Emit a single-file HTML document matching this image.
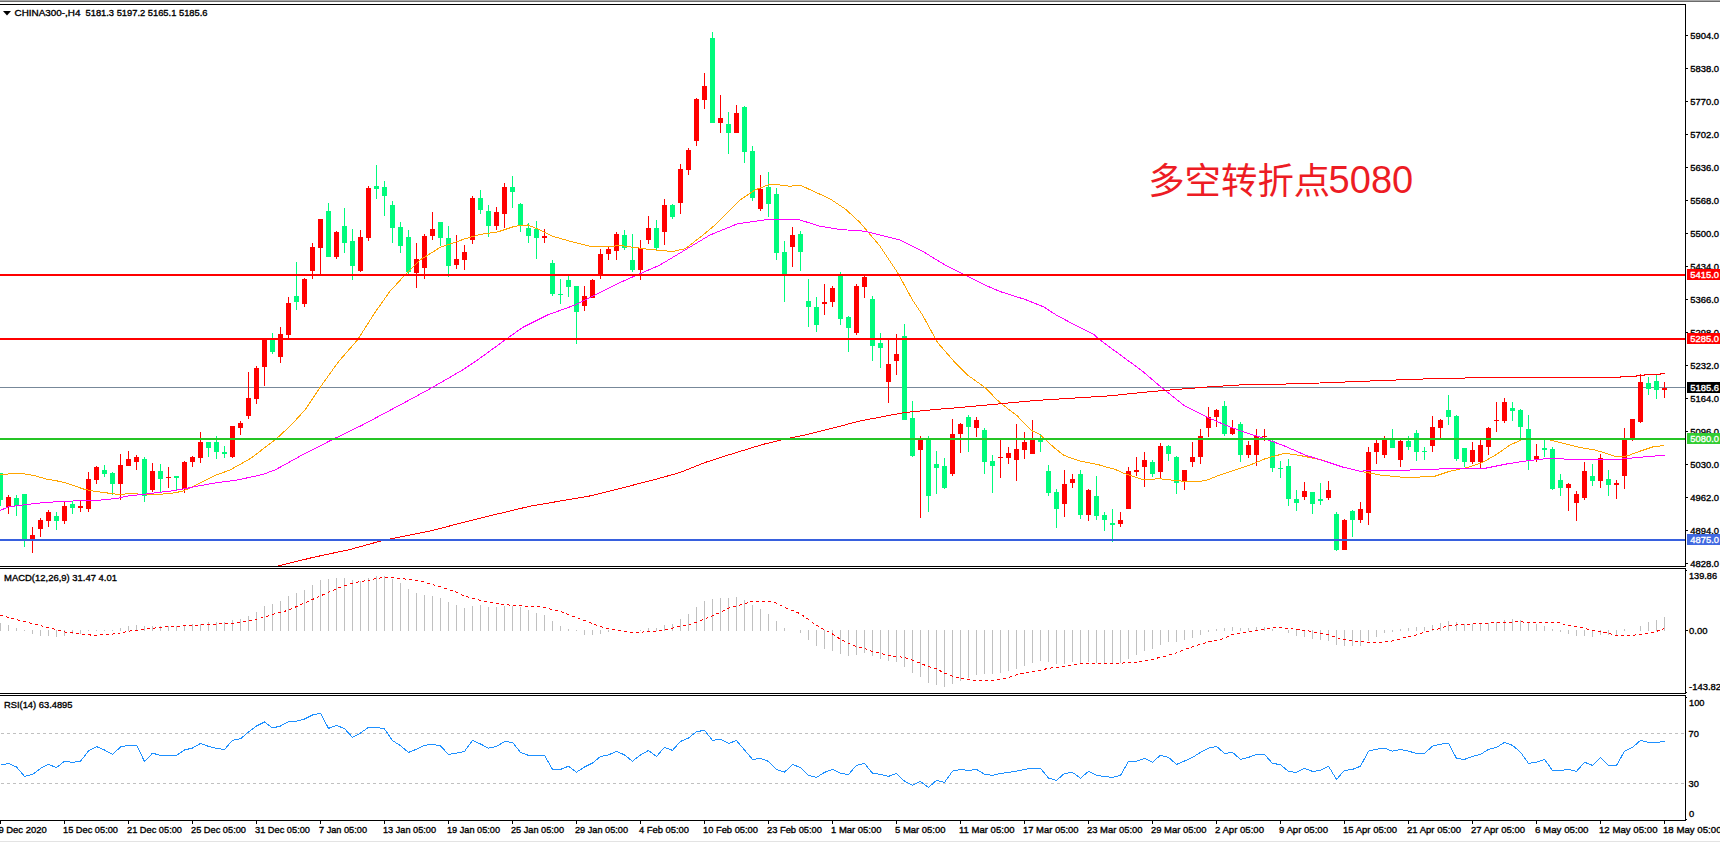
<!DOCTYPE html>
<html lang="zh"><head><meta charset="utf-8"><title>CHINA300-,H4</title>
<style>html,body{margin:0;padding:0;background:#fff;overflow:hidden}svg{display:block;font-family:"Liberation Sans","Noto Sans CJK SC",sans-serif}.crisp{shape-rendering:crispEdges}.ln{fill:none;stroke-width:1;shape-rendering:crispEdges}.note{font-family:"Liberation Sans","Noto Sans CJK SC",sans-serif}</style></head><body>
<svg width="1720" height="843" viewBox="0 0 1720 843">
<rect x="0" y="0" width="1720" height="843" fill="#fff"/>
<g class="crisp">
<rect x="0" y="0" width="1720" height="1" fill="#a9a9a9"/>
<rect x="0" y="1" width="1720" height="1" fill="#6b6b6b"/>
<rect x="0" y="841" width="1720" height="1" fill="#e3e3e3"/>
</g>
<g class="crisp"><rect x="0" y="387" width="1685" height="1" fill="#778899"/></g>
<g class="crisp">
<path fill="#00fb7c" d="M0 473h1v33h-1zM-2 473h5v27h-5zM16 495h1v21h-1zM14 498h5v8h-5zM24 494h1v53h-1zM22 494h5v46h-5zM56 512h1v18h-1zM54 516h5v5h-5zM72 501h1v13h-1zM70 504h5v4h-5zM104 465h1v12h-1zM102 470h5v4h-5zM112 472h1v23h-1zM110 473h5v11h-5zM144 457h1v45h-1zM142 459h5v37h-5zM160 464h1v28h-1zM158 471h5v8h-5zM176 476h1v15h-1zM174 476h5v2h-5zM208 442h1v15h-1zM206 442h5v6h-5zM216 436h1v23h-1zM214 442h5v10h-5zM224 446h1v12h-1zM222 452h5v2h-5zM272 333h1v21h-1zM270 340h5v12h-5zM296 262h1v48h-1zM294 296h5v6h-5zM328 203h1v54h-1zM326 211h5v46h-5zM344 208h1v45h-1zM342 226h5v17h-5zM352 229h1v51h-1zM350 241h5v25h-5zM376 165h1v34h-1zM374 186h5v3h-5zM384 181h1v35h-1zM382 187h5v9h-5zM392 201h1v42h-1zM390 205h5v23h-5zM400 222h1v31h-1zM398 227h5v19h-5zM408 230h1v44h-1zM406 237h5v35h-5zM440 222h1v24h-1zM438 222h5v16h-5zM448 226h1v51h-1zM446 238h5v28h-5zM480 190h1v24h-1zM478 198h5v12h-5zM488 205h1v32h-1zM486 211h5v15h-5zM512 176h1v32h-1zM510 187h5v5h-5zM520 203h1v29h-1zM518 204h5v21h-5zM528 223h1v20h-1zM526 228h5v8h-5zM536 221h1v38h-1zM534 229h5v9h-5zM552 260h1v36h-1zM550 263h5v31h-5zM560 279h1v25h-1zM558 294h5v1h-5zM568 276h1v21h-1zM566 280h5v7h-5zM576 286h1v58h-1zM574 286h5v26h-5zM624 230h1v20h-1zM622 235h5v13h-5zM632 234h1v38h-1zM630 260h5v10h-5zM656 220h1v30h-1zM654 228h5v20h-5zM672 204h1v15h-1zM670 205h5v12h-5zM712 32h1v91h-1zM710 38h5v85h-5zM728 112h1v42h-1zM726 124h5v9h-5zM744 106h1v57h-1zM742 107h5v45h-5zM752 146h1v55h-1zM750 151h5v47h-5zM768 172h1v45h-1zM766 187h5v17h-5zM776 188h1v72h-1zM774 194h5v59h-5zM784 241h1v61h-1zM782 252h5v22h-5zM800 231h1v40h-1zM798 234h5v18h-5zM808 279h1v48h-1zM806 301h5v6h-5zM816 297h1v35h-1zM814 307h5v18h-5zM840 272h1v53h-1zM838 275h5v44h-5zM848 316h1v36h-1zM846 317h5v11h-5zM872 296h1v65h-1zM870 299h5v47h-5zM880 333h1v35h-1zM878 343h5v5h-5zM904 324h1v96h-1zM902 336h5v84h-5zM912 401h1v56h-1zM910 418h5v38h-5zM928 436h1v76h-1zM926 439h5v57h-5zM936 451h1v43h-1zM934 464h5v4h-5zM944 458h1v31h-1zM942 466h5v22h-5zM968 415h1v37h-1zM966 417h5v10h-5zM984 428h1v46h-1zM982 430h5v32h-5zM992 455h1v38h-1zM990 461h5v5h-5zM1040 434h1v18h-1zM1038 439h5v3h-5zM1048 465h1v31h-1zM1046 471h5v22h-5zM1056 489h1v39h-1zM1054 492h5v17h-5zM1080 470h1v49h-1zM1078 474h5v41h-5zM1096 476h1v44h-1zM1094 496h5v20h-5zM1104 512h1v19h-1zM1102 515h5v5h-5zM1112 509h1v33h-1zM1110 523h5v2h-5zM1152 460h1v17h-1zM1150 462h5v12h-5zM1168 445h1v16h-1zM1166 446h5v8h-5zM1176 456h1v38h-1zM1174 457h5v26h-5zM1224 401h1v35h-1zM1222 406h5v28h-5zM1240 422h1v40h-1zM1238 424h5v31h-5zM1272 440h1v32h-1zM1270 441h5v27h-5zM1280 461h1v17h-1zM1278 468h5v1h-5zM1288 459h1v47h-1zM1286 466h5v33h-5zM1296 490h1v21h-1zM1294 499h5v4h-5zM1312 492h1v22h-1zM1310 492h5v12h-5zM1320 483h1v22h-1zM1318 499h5v2h-5zM1336 512h1v39h-1zM1334 514h5v36h-5zM1352 510h1v27h-1zM1350 511h5v9h-5zM1392 429h1v19h-1zM1390 440h5v8h-5zM1408 436h1v14h-1zM1406 441h5v6h-5zM1416 430h1v31h-1zM1414 433h5v19h-5zM1424 447h1v13h-1zM1422 451h5v1h-5zM1448 395h1v30h-1zM1446 410h5v7h-5zM1456 415h1v46h-1zM1454 416h5v43h-5zM1464 448h1v19h-1zM1462 448h5v14h-5zM1512 402h1v19h-1zM1510 408h5v3h-5zM1520 409h1v29h-1zM1518 410h5v17h-5zM1528 415h1v55h-1zM1526 429h5v32h-5zM1544 440h1v17h-1zM1542 448h5v2h-5zM1552 447h1v43h-1zM1550 449h5v40h-5zM1560 474h1v22h-1zM1558 480h5v8h-5zM1592 464h1v22h-1zM1590 476h5v5h-5zM1608 470h1v26h-1zM1606 479h5v6h-5zM1648 377h1v18h-1zM1646 383h5v6h-5zM1656 375h1v24h-1zM1654 381h5v9h-5z"/>
<path fill="#ff0000" d="M8 495h1v19h-1zM6 497h5v10h-5zM32 527h1v26h-1zM30 535h5v4h-5zM40 518h1v19h-1zM38 520h5v9h-5zM48 510h1v17h-1zM46 512h5v9h-5zM64 502h1v22h-1zM62 506h5v15h-5zM80 500h1v12h-1zM78 506h5v2h-5zM88 472h1v40h-1zM86 479h5v30h-5zM96 466h1v18h-1zM94 467h5v13h-5zM120 454h1v46h-1zM118 465h5v19h-5zM128 451h1v15h-1zM126 459h5v7h-5zM136 455h1v15h-1zM134 457h5v5h-5zM152 463h1v29h-1zM150 471h5v19h-5zM168 467h1v21h-1zM166 477h5v1h-5zM184 461h1v32h-1zM182 462h5v27h-5zM192 456h1v11h-1zM190 457h5v5h-5zM200 432h1v31h-1zM198 442h5v16h-5zM232 426h1v32h-1zM230 426h5v31h-5zM240 421h1v14h-1zM238 423h5v5h-5zM248 372h1v47h-1zM246 398h5v18h-5zM256 366h1v38h-1zM254 368h5v31h-5zM264 338h1v48h-1zM262 338h5v29h-5zM280 327h1v36h-1zM278 334h5v23h-5zM288 297h1v41h-1zM286 303h5v32h-5zM304 278h1v29h-1zM302 279h5v25h-5zM312 243h1v36h-1zM310 247h5v24h-5zM320 219h1v55h-1zM318 219h5v29h-5zM336 231h1v28h-1zM334 232h5v25h-5zM360 230h1v42h-1zM358 237h5v34h-5zM368 186h1v55h-1zM366 188h5v50h-5zM416 243h1v45h-1zM414 259h5v14h-5zM424 234h1v45h-1zM422 236h5v32h-5zM432 212h1v28h-1zM430 229h5v7h-5zM456 235h1v34h-1zM454 259h5v6h-5zM464 245h1v25h-1zM462 252h5v8h-5zM472 196h1v48h-1zM470 198h5v42h-5zM496 207h1v23h-1zM494 212h5v14h-5zM504 183h1v45h-1zM502 187h5v27h-5zM544 229h1v14h-1zM542 236h5v2h-5zM584 286h1v25h-1zM582 296h5v10h-5zM592 279h1v19h-1zM590 280h5v18h-5zM600 249h1v30h-1zM598 254h5v21h-5zM608 246h1v14h-1zM606 249h5v5h-5zM616 232h1v28h-1zM614 234h5v17h-5zM640 240h1v40h-1zM638 248h5v22h-5zM648 216h1v28h-1zM646 228h5v12h-5zM664 199h1v46h-1zM662 205h5v27h-5zM680 164h1v50h-1zM678 169h5v34h-5zM688 148h1v27h-1zM686 150h5v20h-5zM696 98h1v48h-1zM694 99h5v42h-5zM704 73h1v36h-1zM702 86h5v14h-5zM720 95h1v38h-1zM718 118h5v5h-5zM736 105h1v28h-1zM734 113h5v20h-5zM760 175h1v36h-1zM758 189h5v20h-5zM792 227h1v40h-1zM790 235h5v12h-5zM824 284h1v31h-1zM822 302h5v2h-5zM832 286h1v21h-1zM830 288h5v14h-5zM856 284h1v51h-1zM854 286h5v47h-5zM864 276h1v22h-1zM862 277h5v10h-5zM888 339h1v64h-1zM886 364h5v18h-5zM896 334h1v41h-1zM894 354h5v7h-5zM920 436h1v82h-1zM918 439h5v11h-5zM952 419h1v57h-1zM950 434h5v40h-5zM960 423h1v30h-1zM958 424h5v10h-5zM976 417h1v20h-1zM974 420h5v8h-5zM1000 440h1v38h-1zM998 457h5v1h-5zM1008 447h1v17h-1zM1006 453h5v5h-5zM1016 424h1v57h-1zM1014 449h5v11h-5zM1024 432h1v27h-1zM1022 442h5v8h-5zM1032 420h1v34h-1zM1030 439h5v15h-5zM1064 470h1v47h-1zM1062 484h5v20h-5zM1072 474h1v14h-1zM1070 479h5v4h-5zM1088 489h1v32h-1zM1086 490h5v25h-5zM1120 512h1v15h-1zM1118 520h5v4h-5zM1128 467h1v42h-1zM1126 471h5v38h-5zM1136 457h1v19h-1zM1134 470h5v2h-5zM1144 452h1v35h-1zM1142 460h5v7h-5zM1160 443h1v35h-1zM1158 446h5v26h-5zM1184 470h1v20h-1zM1182 470h5v12h-5zM1192 442h1v25h-1zM1190 457h5v5h-5zM1200 429h1v35h-1zM1198 436h5v21h-5zM1208 407h1v30h-1zM1206 417h5v11h-5zM1216 409h1v18h-1zM1214 410h5v7h-5zM1232 420h1v15h-1zM1230 428h5v6h-5zM1248 441h1v17h-1zM1246 445h5v10h-5zM1256 429h1v37h-1zM1254 436h5v19h-5zM1264 429h1v12h-1zM1262 436h5v1h-5zM1304 482h1v18h-1zM1302 491h5v6h-5zM1328 481h1v19h-1zM1326 490h5v8h-5zM1344 519h1v31h-1zM1342 520h5v30h-5zM1360 502h1v21h-1zM1358 509h5v11h-5zM1368 447h1v78h-1zM1366 452h5v61h-5zM1376 440h1v24h-1zM1374 443h5v9h-5zM1384 436h1v22h-1zM1382 440h5v15h-5zM1400 440h1v27h-1zM1398 441h5v19h-5zM1432 416h1v36h-1zM1430 427h5v19h-5zM1440 419h1v19h-1zM1438 420h5v8h-5zM1472 442h1v22h-1zM1470 450h5v12h-5zM1480 440h1v28h-1zM1478 445h5v17h-5zM1488 427h1v28h-1zM1486 428h5v19h-5zM1496 402h1v30h-1zM1494 420h5v1h-5zM1504 398h1v25h-1zM1502 402h5v19h-5zM1536 444h1v18h-1zM1534 456h5v4h-5zM1568 483h1v28h-1zM1566 484h5v4h-5zM1576 491h1v30h-1zM1574 494h5v9h-5zM1584 462h1v38h-1zM1582 471h5v27h-5zM1600 454h1v34h-1zM1598 458h5v23h-5zM1616 480h1v19h-1zM1614 483h5v2h-5zM1624 428h1v61h-1zM1622 439h5v37h-5zM1632 419h1v22h-1zM1630 419h5v20h-5zM1640 374h1v49h-1zM1638 382h5v40h-5zM1664 382h1v16h-1zM1662 388h5v2h-5z"/>
</g>
<polyline class="ln" stroke="#ffa500" points="0.0,474.9 7.1,474.2 14.2,473.2 21.4,473.6 28.5,474.5 37.0,476.3 47.0,479.2 57.0,480.9 65.5,482.7 74.0,485.6 82.6,488.8 91.1,490.8 99.7,492.0 108.2,493.1 118.2,494.4 128.2,493.8 142.4,494.1 156.6,494.5 170.9,493.4 182.3,491.3 190.8,487.7 199.3,483.4 206.5,479.9 215.0,475.5 230.0,470.0 250.0,458.8 265.0,447.5 275.0,440.0 290.0,426.2 305.0,410.0 320.0,387.5 332.5,370.0 340.0,360.0 357.5,340.0 375.0,312.5 390.0,291.2 405.0,275.0 420.0,260.0 440.0,247.5 465.0,238.8 480.0,234.5 497.5,232.0 515.0,226.2 527.5,225.0 537.5,228.8 552.5,236.2 570.0,241.2 590.0,246.2 605.0,247.0 620.0,245.5 650.0,249.5 672.5,251.5 685.0,248.8 700.0,237.5 715.0,225.0 725.0,215.0 740.0,200.0 755.0,190.0 770.0,184.2 780.0,185.0 790.0,186.2 800.0,185.0 815.0,192.0 830.0,198.8 845.0,208.8 860.0,222.5 880.0,246.2 897.5,272.5 912.5,300.0 922.5,315.0 937.5,342.5 955.0,362.5 967.5,375.0 985.0,387.5 997.2,400.0 1006.6,407.7 1017.0,415.5 1025.6,424.9 1032.4,431.0 1039.3,434.1 1046.2,440.4 1054.8,448.2 1063.4,455.0 1072.0,458.5 1080.6,461.1 1089.2,462.8 1097.8,464.5 1106.4,467.1 1115.0,469.3 1125.0,473.8 1142.5,479.5 1160.0,478.8 1175.0,480.5 1190.0,481.8 1205.0,480.8 1220.0,475.0 1235.0,470.0 1250.0,465.0 1265.0,458.8 1285.0,453.2 1300.0,455.5 1320.0,459.5 1340.0,466.2 1360.0,471.2 1380.0,475.0 1400.0,477.0 1420.0,477.0 1435.0,476.2 1450.0,471.2 1467.5,467.5 1482.5,462.5 1497.5,453.8 1510.0,445.0 1522.5,439.5 1535.0,438.0 1550.0,440.0 1565.0,443.8 1580.0,447.5 1595.0,450.0 1607.5,453.8 1617.5,457.0 1627.5,455.8 1640.0,451.2 1652.5,447.0 1664.5,445.5"/>
<polyline class="ln" stroke="#ff00ff" points="0.0,510.5 8.5,506.9 24.2,504.8 42.7,502.7 59.8,501.5 85.4,500.5 99.7,500.1 116.8,498.4 128.2,496.0 142.4,494.4 156.6,492.7 170.9,491.0 185.1,488.7 199.3,485.8 215.0,483.0 237.5,480.0 262.5,474.5 275.0,470.0 300.0,456.2 332.5,439.5 362.5,425.0 400.0,405.0 430.0,388.8 462.5,370.0 477.5,360.0 505.0,340.0 522.5,327.5 547.5,315.0 575.0,305.0 600.0,292.5 620.0,282.5 640.0,273.8 660.0,265.0 685.0,250.0 710.0,235.0 737.5,223.8 770.0,219.2 800.0,220.0 820.0,226.2 840.0,229.5 865.0,231.2 900.0,240.0 922.5,251.2 945.0,265.0 965.0,275.0 985.0,285.0 1000.0,291.5 1025.0,299.4 1043.8,306.9 1056.2,315.0 1075.0,325.0 1093.8,334.4 1100.0,340.0 1118.8,353.8 1137.5,367.5 1142.5,371.2 1160.0,386.2 1185.0,406.2 1205.0,416.2 1225.0,425.0 1245.0,432.5 1260.0,437.0 1270.0,440.5 1285.0,446.2 1305.0,455.0 1325.0,461.2 1342.5,467.0 1360.0,471.2 1380.0,470.0 1410.0,470.0 1445.0,468.8 1482.5,468.8 1507.5,463.8 1527.5,460.8 1545.0,458.8 1582.5,459.2 1620.0,459.2 1645.0,456.8 1664.5,455.2"/>
<polyline class="ln" stroke="#ff0000" points="277.5,566.2 312.5,557.5 350.0,549.5 380.0,541.2 400.0,537.0 430.0,531.0 480.0,518.2 530.0,506.2 592.5,495.5 655.0,479.5 680.0,472.5 705.0,462.5 730.0,454.5 762.5,444.5 785.0,439.0 805.0,435.0 830.0,428.8 860.0,421.0 885.0,416.2 905.0,412.5 935.0,409.5 960.0,407.5 1000.0,403.8 1035.0,400.5 1072.5,398.2 1110.0,395.8 1135.0,393.2 1160.0,390.8 1185.0,388.8 1210.0,386.8 1247.5,384.5 1270.0,384.5 1320.0,383.0 1382.5,380.5 1445.0,378.2 1520.0,377.5 1595.0,377.5 1620.0,377.5 1620.0,376.5 1636.0,376.5 1636.0,375.5 1644.0,375.5 1644.0,374.5 1660.0,374.5 1660.0,373.5 1664.5,373.5"/>
<g class="crisp">
<rect x="0" y="274" width="1685" height="2" fill="#ff0000"/>
<rect x="0" y="338" width="1685" height="2" fill="#ff0000"/>
<rect x="0" y="438" width="1685" height="2" fill="#25c425"/>
<rect x="0" y="539" width="1685" height="2" fill="#3760de"/>
</g>
<g class="crisp" fill="#000">
<rect x="0" y="4" width="1686" height="1" fill="#000"/>
<rect x="0" y="566" width="1686" height="1" fill="#000"/>
<rect x="0" y="568" width="1686" height="1" fill="#000"/>
<rect x="0" y="693" width="1686" height="1" fill="#000"/>
<rect x="0" y="695" width="1686" height="1" fill="#000"/>
<rect x="0" y="820" width="1686" height="1" fill="#000"/>
<rect x="1685" y="4" width="1" height="563" fill="#000"/>
<rect x="1685" y="568" width="1" height="126" fill="#000"/>
<rect x="1685" y="695" width="1" height="126" fill="#000"/>
<rect x="1686" y="35" width="2" height="1" fill="#000"/>
<rect x="1686" y="68" width="2" height="1" fill="#000"/>
<rect x="1686" y="101" width="2" height="1" fill="#000"/>
<rect x="1686" y="134" width="2" height="1" fill="#000"/>
<rect x="1686" y="167" width="2" height="1" fill="#000"/>
<rect x="1686" y="200" width="2" height="1" fill="#000"/>
<rect x="1686" y="233" width="2" height="1" fill="#000"/>
<rect x="1686" y="266" width="2" height="1" fill="#000"/>
<rect x="1686" y="299" width="2" height="1" fill="#000"/>
<rect x="1686" y="332" width="2" height="1" fill="#000"/>
<rect x="1686" y="365" width="2" height="1" fill="#000"/>
<rect x="1686" y="398" width="2" height="1" fill="#000"/>
<rect x="1686" y="431" width="2" height="1" fill="#000"/>
<rect x="1686" y="464" width="2" height="1" fill="#000"/>
<rect x="1686" y="497" width="2" height="1" fill="#000"/>
<rect x="1686" y="530" width="2" height="1" fill="#000"/>
<rect x="1686" y="563" width="2" height="1" fill="#000"/>
<rect x="1686" y="570" width="1" height="1" fill="#000"/>
<rect x="1686" y="630" width="2" height="1" fill="#000"/>
<rect x="1686" y="692" width="1" height="1" fill="#000"/>
<rect x="1686" y="697" width="1" height="1" fill="#000"/>
<rect x="1686" y="819" width="1" height="1" fill="#000"/>
<rect x="0" y="821" width="1" height="3" fill="#000"/>
<rect x="64" y="821" width="1" height="3" fill="#000"/>
<rect x="128" y="821" width="1" height="3" fill="#000"/>
<rect x="192" y="821" width="1" height="3" fill="#000"/>
<rect x="256" y="821" width="1" height="3" fill="#000"/>
<rect x="320" y="821" width="1" height="3" fill="#000"/>
<rect x="384" y="821" width="1" height="3" fill="#000"/>
<rect x="448" y="821" width="1" height="3" fill="#000"/>
<rect x="512" y="821" width="1" height="3" fill="#000"/>
<rect x="576" y="821" width="1" height="3" fill="#000"/>
<rect x="640" y="821" width="1" height="3" fill="#000"/>
<rect x="704" y="821" width="1" height="3" fill="#000"/>
<rect x="768" y="821" width="1" height="3" fill="#000"/>
<rect x="832" y="821" width="1" height="3" fill="#000"/>
<rect x="896" y="821" width="1" height="3" fill="#000"/>
<rect x="960" y="821" width="1" height="3" fill="#000"/>
<rect x="1024" y="821" width="1" height="3" fill="#000"/>
<rect x="1088" y="821" width="1" height="3" fill="#000"/>
<rect x="1152" y="821" width="1" height="3" fill="#000"/>
<rect x="1216" y="821" width="1" height="3" fill="#000"/>
<rect x="1280" y="821" width="1" height="3" fill="#000"/>
<rect x="1344" y="821" width="1" height="3" fill="#000"/>
<rect x="1408" y="821" width="1" height="3" fill="#000"/>
<rect x="1472" y="821" width="1" height="3" fill="#000"/>
<rect x="1536" y="821" width="1" height="3" fill="#000"/>
<rect x="1600" y="821" width="1" height="3" fill="#000"/>
<rect x="1664" y="821" width="1" height="3" fill="#000"/>
</g>
<g>
<text x="1690.3" y="39" fill="#000" stroke="#000" stroke-width="0.35" font-size="9.7" textLength="28.8" lengthAdjust="spacingAndGlyphs">5904.0</text>
<text x="1690.3" y="72" fill="#000" stroke="#000" stroke-width="0.35" font-size="9.7" textLength="28.8" lengthAdjust="spacingAndGlyphs">5838.0</text>
<text x="1690.3" y="105" fill="#000" stroke="#000" stroke-width="0.35" font-size="9.7" textLength="28.8" lengthAdjust="spacingAndGlyphs">5770.0</text>
<text x="1690.3" y="138" fill="#000" stroke="#000" stroke-width="0.35" font-size="9.7" textLength="28.8" lengthAdjust="spacingAndGlyphs">5702.0</text>
<text x="1690.3" y="171" fill="#000" stroke="#000" stroke-width="0.35" font-size="9.7" textLength="28.8" lengthAdjust="spacingAndGlyphs">5636.0</text>
<text x="1690.3" y="204" fill="#000" stroke="#000" stroke-width="0.35" font-size="9.7" textLength="28.8" lengthAdjust="spacingAndGlyphs">5568.0</text>
<text x="1690.3" y="237" fill="#000" stroke="#000" stroke-width="0.35" font-size="9.7" textLength="28.8" lengthAdjust="spacingAndGlyphs">5500.0</text>
<text x="1690.3" y="270" fill="#000" stroke="#000" stroke-width="0.35" font-size="9.7" textLength="28.8" lengthAdjust="spacingAndGlyphs">5434.0</text>
<text x="1690.3" y="303" fill="#000" stroke="#000" stroke-width="0.35" font-size="9.7" textLength="28.8" lengthAdjust="spacingAndGlyphs">5366.0</text>
<text x="1690.3" y="336" fill="#000" stroke="#000" stroke-width="0.35" font-size="9.7" textLength="28.8" lengthAdjust="spacingAndGlyphs">5298.0</text>
<text x="1690.3" y="369" fill="#000" stroke="#000" stroke-width="0.35" font-size="9.7" textLength="28.8" lengthAdjust="spacingAndGlyphs">5232.0</text>
<text x="1690.3" y="402" fill="#000" stroke="#000" stroke-width="0.35" font-size="9.7" textLength="28.8" lengthAdjust="spacingAndGlyphs">5164.0</text>
<text x="1690.3" y="435" fill="#000" stroke="#000" stroke-width="0.35" font-size="9.7" textLength="28.8" lengthAdjust="spacingAndGlyphs">5096.0</text>
<text x="1690.3" y="468" fill="#000" stroke="#000" stroke-width="0.35" font-size="9.7" textLength="28.8" lengthAdjust="spacingAndGlyphs">5030.0</text>
<text x="1690.3" y="501" fill="#000" stroke="#000" stroke-width="0.35" font-size="9.7" textLength="28.8" lengthAdjust="spacingAndGlyphs">4962.0</text>
<text x="1690.3" y="534" fill="#000" stroke="#000" stroke-width="0.35" font-size="9.7" textLength="28.8" lengthAdjust="spacingAndGlyphs">4894.0</text>
<text x="1690.3" y="567" fill="#000" stroke="#000" stroke-width="0.35" font-size="9.7" textLength="28.8" lengthAdjust="spacingAndGlyphs">4828.0</text>
</g>
<rect class="crisp" x="1687" y="269" width="33" height="11" fill="#ff0000"/>
<text x="1690.3" y="278" fill="#fff" stroke="#fff" stroke-width="0.35" font-size="9.7" textLength="28.8" lengthAdjust="spacingAndGlyphs">5415.0</text>
<rect class="crisp" x="1687" y="333" width="33" height="11" fill="#ff0000"/>
<text x="1690.3" y="342" fill="#fff" stroke="#fff" stroke-width="0.35" font-size="9.7" textLength="28.8" lengthAdjust="spacingAndGlyphs">5285.0</text>
<rect class="crisp" x="1687" y="433" width="33" height="11" fill="#32cd32"/>
<text x="1690.3" y="442" fill="#fff" stroke="#fff" stroke-width="0.35" font-size="9.7" textLength="28.8" lengthAdjust="spacingAndGlyphs">5080.0</text>
<rect class="crisp" x="1687" y="534" width="33" height="11" fill="#4169e1"/>
<text x="1690.3" y="543" fill="#fff" stroke="#fff" stroke-width="0.35" font-size="9.7" textLength="28.8" lengthAdjust="spacingAndGlyphs">4875.0</text>
<rect class="crisp" x="1687" y="382" width="33" height="11" fill="#000"/>
<text x="1690.3" y="391" fill="#fff" stroke="#fff" stroke-width="0.35" font-size="9.7" textLength="28.8" lengthAdjust="spacingAndGlyphs">5185.6</text>
<path d="M3 11h8l-4 4.5z" fill="#000"/>
<text x="14.5" y="16" fill="#000" stroke="#000" stroke-width="0.35" font-size="9.7" textLength="66" lengthAdjust="spacingAndGlyphs">CHINA300-,H4</text>
<text x="85.5" y="16" fill="#000" stroke="#000" stroke-width="0.35" font-size="9.7" textLength="122" lengthAdjust="spacingAndGlyphs">5181.3 5197.2 5165.1 5185.6</text>
<text class="note" x="1148.2" y="193.7" font-size="36" fill="#ed1c24" textLength="182" lengthAdjust="spacingAndGlyphs">多空转折点</text>
<text class="note" x="1328.6" y="192.6" font-size="38.5" fill="#ed1c24" textLength="84.6" lengthAdjust="spacingAndGlyphs">5080</text>
<g class="crisp">
<path fill="#c0c0c0" d="M0 623h1v8h-1zM8 625h1v6h-1zM16 628h1v3h-1zM24 630h1v1h-1zM32 630h1v4h-1zM40 630h1v6h-1zM48 630h1v6h-1zM56 630h1v7h-1zM64 630h1v6h-1zM72 630h1v4h-1zM80 630h1v4h-1zM88 630h1v1h-1zM96 630h1v1h-1zM104 630h1v1h-1zM112 630h1v1h-1zM120 628h1v3h-1zM128 626h1v5h-1zM136 625h1v6h-1zM144 626h1v5h-1zM152 626h1v5h-1zM160 626h1v5h-1zM168 626h1v5h-1zM176 626h1v5h-1zM184 625h1v6h-1zM192 624h1v7h-1zM200 624h1v7h-1zM208 622h1v9h-1zM216 622h1v9h-1zM224 622h1v9h-1zM232 620h1v11h-1zM240 619h1v12h-1zM248 616h1v15h-1zM256 612h1v19h-1zM264 606h1v25h-1zM272 604h1v27h-1zM280 601h1v30h-1zM288 596h1v35h-1zM296 593h1v38h-1zM304 590h1v41h-1zM312 585h1v46h-1zM320 580h1v51h-1zM328 579h1v52h-1zM336 578h1v53h-1zM344 578h1v53h-1zM352 580h1v51h-1zM360 581h1v50h-1zM368 578h1v53h-1zM376 576h1v55h-1zM384 576h1v55h-1zM392 579h1v52h-1zM400 583h1v48h-1zM408 589h1v42h-1zM416 593h1v38h-1zM424 595h1v36h-1zM432 596h1v35h-1zM440 598h1v33h-1zM448 602h1v29h-1zM456 605h1v26h-1zM464 608h1v23h-1zM472 606h1v25h-1zM480 605h1v26h-1zM488 607h1v24h-1zM496 607h1v24h-1zM504 606h1v25h-1zM512 606h1v25h-1zM520 607h1v24h-1zM528 610h1v21h-1zM536 613h1v18h-1zM544 615h1v16h-1zM552 621h1v10h-1zM560 626h1v5h-1zM568 629h1v2h-1zM576 630h1v1h-1zM584 630h1v5h-1zM592 630h1v5h-1zM600 630h1v4h-1zM608 630h1v2h-1zM640 630h1v1h-1zM648 628h1v3h-1zM656 628h1v3h-1zM664 625h1v6h-1zM672 624h1v7h-1zM680 619h1v12h-1zM688 614h1v17h-1zM696 607h1v24h-1zM704 601h1v30h-1zM712 599h1v32h-1zM720 598h1v33h-1zM728 598h1v33h-1zM736 597h1v34h-1zM744 600h1v31h-1zM752 605h1v26h-1zM760 609h1v22h-1zM768 614h1v17h-1zM776 621h1v10h-1zM784 628h1v3h-1zM800 630h1v3h-1zM808 630h1v10h-1zM816 630h1v16h-1zM824 630h1v19h-1zM832 630h1v21h-1zM840 630h1v24h-1zM848 630h1v26h-1zM856 630h1v25h-1zM864 630h1v23h-1zM872 630h1v26h-1zM880 630h1v29h-1zM888 630h1v31h-1zM896 630h1v32h-1zM904 630h1v37h-1zM912 630h1v43h-1zM920 630h1v47h-1zM928 630h1v53h-1zM936 630h1v55h-1zM944 630h1v57h-1zM952 630h1v54h-1zM960 630h1v51h-1zM968 630h1v48h-1zM976 630h1v45h-1zM984 630h1v44h-1zM992 630h1v44h-1zM1000 630h1v43h-1zM1008 630h1v41h-1zM1016 630h1v39h-1zM1024 630h1v36h-1zM1032 630h1v33h-1zM1040 630h1v31h-1zM1048 630h1v32h-1zM1056 630h1v34h-1zM1064 630h1v34h-1zM1072 630h1v32h-1zM1080 630h1v33h-1zM1088 630h1v32h-1zM1096 630h1v33h-1zM1104 630h1v34h-1zM1112 630h1v34h-1zM1120 630h1v33h-1zM1128 630h1v29h-1zM1136 630h1v25h-1zM1144 630h1v21h-1zM1152 630h1v19h-1zM1160 630h1v15h-1zM1168 630h1v12h-1zM1176 630h1v12h-1zM1184 630h1v10h-1zM1192 630h1v8h-1zM1200 630h1v5h-1zM1208 630h1v2h-1zM1216 629h1v2h-1zM1224 628h1v3h-1zM1232 627h1v4h-1zM1240 628h1v3h-1zM1248 628h1v3h-1zM1256 627h1v4h-1zM1264 627h1v4h-1zM1272 629h1v2h-1zM1288 630h1v3h-1zM1296 630h1v6h-1zM1304 630h1v7h-1zM1312 630h1v9h-1zM1320 630h1v10h-1zM1328 630h1v11h-1zM1336 630h1v15h-1zM1344 630h1v16h-1zM1352 630h1v16h-1zM1360 630h1v16h-1zM1368 630h1v11h-1zM1376 630h1v7h-1zM1384 630h1v3h-1zM1392 630h1v2h-1zM1400 629h1v2h-1zM1408 628h1v3h-1zM1416 627h1v4h-1zM1424 627h1v4h-1zM1432 625h1v6h-1zM1440 623h1v8h-1zM1448 621h1v10h-1zM1456 622h1v9h-1zM1464 624h1v7h-1zM1472 624h1v7h-1zM1480 624h1v7h-1zM1488 623h1v8h-1zM1496 622h1v9h-1zM1504 620h1v11h-1zM1512 619h1v12h-1zM1520 620h1v11h-1zM1528 623h1v8h-1zM1536 624h1v7h-1zM1544 626h1v5h-1zM1552 629h1v2h-1zM1560 630h1v2h-1zM1568 630h1v4h-1zM1576 630h1v6h-1zM1584 630h1v6h-1zM1592 630h1v7h-1zM1600 630h1v5h-1zM1608 630h1v5h-1zM1616 630h1v6h-1zM1624 629h1v2h-1zM1640 626h1v5h-1zM1648 622h1v9h-1zM1656 620h1v11h-1zM1664 617h1v14h-1z"/>
</g>
<polyline class="ln" stroke="#ff0000" points="0.0,615.0 15.0,619.2 30.0,623.0 50.0,628.0 65.0,632.0 80.0,634.0 92.5,635.2 105.0,634.8 117.5,633.5 130.0,631.0 150.0,628.5 170.0,626.5 190.0,625.5 215.0,624.2 235.0,623.0 252.5,620.0 265.0,617.0 275.0,613.8 287.5,610.5 300.0,605.0 312.5,599.5 322.5,595.0 332.5,590.5 342.5,586.2 344.0,586.0 352.0,583.4 360.0,581.6 368.0,580.4 376.0,578.6 384.0,577.4 392.0,577.4 400.0,578.4 408.0,579.4 416.0,580.4 424.0,582.0 432.0,584.4 440.0,586.4 448.0,589.4 456.0,592.0 464.0,596.0 472.0,598.0 480.0,600.4 488.0,602.0 496.0,603.4 504.0,604.4 512.0,605.4 520.0,605.6 528.0,606.4 536.0,606.4 544.0,607.4 552.0,609.4 560.0,611.4 568.0,614.4 576.0,617.4 584.0,620.4 592.0,623.4 600.0,626.4 608.0,628.4 616.0,630.0 624.0,631.0 632.0,632.4 640.0,632.4 648.0,631.4 656.0,631.4 664.0,630.0 672.0,628.4 680.0,626.0 688.0,625.0 696.0,622.4 704.0,619.4 712.0,616.0 720.0,612.4 728.0,608.4 736.0,606.0 744.0,604.0 752.0,601.4 760.0,601.4 768.0,601.4 776.0,603.0 784.0,607.0 792.0,610.4 800.0,613.6 808.0,619.0 816.0,625.0 824.0,629.4 832.0,633.6 840.0,639.0 848.0,643.0 856.0,646.4 864.0,648.4 872.0,651.4 880.0,653.0 888.0,655.4 896.0,656.4 904.0,657.4 912.0,660.0 920.0,663.0 928.0,666.6 936.0,668.6 944.0,673.0 952.0,676.0 960.0,678.4 968.0,679.4 976.0,680.4 984.0,680.4 992.0,680.4 1000.0,679.0 1008.0,677.6 1016.0,675.0 1024.0,673.0 1032.0,671.6 1040.0,670.4 1048.0,668.4 1056.0,667.4 1064.0,666.4 1072.0,665.4 1080.0,663.8 1088.0,663.4 1096.0,663.4 1104.0,663.4 1112.0,663.4 1120.0,663.4 1128.0,662.4 1136.0,662.4 1144.0,661.0 1152.0,659.4 1160.0,657.4 1168.0,655.4 1176.0,653.0 1184.0,649.6 1192.0,647.0 1200.0,644.4 1208.0,642.0 1216.0,640.4 1224.0,638.4 1232.0,634.4 1240.0,633.4 1248.0,632.0 1256.0,630.6 1264.0,629.0 1272.0,627.6 1280.0,627.6 1288.0,628.4 1296.0,629.4 1304.0,630.4 1312.0,631.4 1320.0,633.4 1328.0,634.4 1336.0,637.4 1344.0,639.6 1352.0,640.6 1360.0,641.6 1368.0,642.2 1376.0,642.2 1384.0,642.2 1392.0,641.0 1400.0,639.0 1408.0,636.6 1416.0,635.0 1424.0,632.4 1432.0,630.0 1440.0,628.6 1448.0,625.6 1456.0,625.0 1464.0,624.4 1472.0,624.0 1480.0,623.2 1488.0,623.2 1496.0,622.6 1504.0,622.6 1512.0,622.2 1520.0,621.6 1528.0,622.6 1536.0,622.6 1544.0,622.6 1552.0,622.6 1560.0,623.0 1568.0,625.4 1576.0,626.6 1584.0,628.0 1592.0,630.4 1600.0,631.4 1608.0,633.0 1616.0,635.4 1624.0,635.4 1632.0,635.4 1640.0,634.4 1648.0,633.0 1656.0,631.6 1664.0,628.6" stroke-dasharray="3 3"/>
<text x="4" y="581" fill="#000" stroke="#000" stroke-width="0.35" font-size="9.7" textLength="113" lengthAdjust="spacingAndGlyphs">MACD(12,26,9) 31.47 4.01</text>
<text x="1689" y="579" fill="#000" stroke="#000" stroke-width="0.35" font-size="9.7" textLength="28" lengthAdjust="spacingAndGlyphs">139.86</text>
<text x="1689" y="634" fill="#000" stroke="#000" stroke-width="0.35" font-size="9.7" textLength="18.5" lengthAdjust="spacingAndGlyphs">0.00</text>
<text x="1689" y="690" fill="#000" stroke="#000" stroke-width="0.35" font-size="9.7" textLength="32" lengthAdjust="spacingAndGlyphs">-143.82</text>
<g class="crisp" stroke="#c0c0c0" stroke-width="1" stroke-dasharray="3 3" fill="none">
<path d="M1 733.5H1685M1 783.5H1685"/>
</g>
<polyline class="ln" stroke="#1e90ff" points="0.5,765.2 8.5,763.4 16.5,767.0 24.5,776.4 32.5,774.4 40.5,768.4 48.5,764.4 56.5,767.6 64.5,761.2 72.5,762.4 80.5,761.2 88.5,751.0 96.5,746.6 104.5,750.0 112.5,754.4 120.5,747.0 128.5,745.2 136.5,745.2 144.5,761.4 152.5,753.2 160.5,755.4 168.5,755.4 176.5,755.4 184.5,750.0 192.5,748.0 200.5,743.4 208.5,746.4 216.5,748.4 224.5,749.4 232.5,740.4 240.5,738.8 248.5,732.0 256.5,726.0 264.5,722.0 272.5,728.0 280.5,726.0 288.5,721.6 296.5,721.2 304.5,719.0 312.5,715.0 320.5,713.4 328.5,728.4 336.5,725.4 344.5,728.6 352.5,737.4 360.5,733.0 368.5,727.4 376.5,727.2 384.5,729.0 392.5,740.6 400.5,745.6 408.5,752.4 416.5,749.2 424.5,745.4 432.5,744.2 440.5,746.0 448.5,754.4 456.5,753.2 464.5,751.4 472.5,740.4 480.5,744.0 488.5,748.2 496.5,746.4 504.5,741.6 512.5,742.4 520.5,752.4 528.5,755.4 536.5,755.4 544.5,755.4 552.5,769.4 560.5,769.4 568.5,766.2 576.5,772.2 584.5,767.0 592.5,763.0 600.5,756.4 608.5,755.0 616.5,751.2 624.5,755.0 632.5,761.2 640.5,755.0 648.5,750.4 656.5,756.4 664.5,747.4 672.5,750.4 680.5,741.4 688.5,738.0 696.5,731.6 704.5,730.4 712.5,740.4 720.5,739.2 728.5,743.4 736.5,740.6 744.5,750.0 752.5,759.4 760.5,758.4 768.5,761.4 776.5,769.4 784.5,772.2 792.5,764.4 800.5,767.6 808.5,775.4 816.5,777.4 824.5,772.4 832.5,769.4 840.5,773.4 848.5,774.4 856.5,765.4 864.5,763.4 872.5,773.2 880.5,774.4 888.5,776.4 896.5,773.4 904.5,781.2 912.5,785.2 920.5,781.4 928.5,787.4 936.5,780.4 944.5,782.4 952.5,771.2 960.5,769.4 968.5,770.4 976.5,769.4 984.5,774.2 992.5,775.4 1000.5,773.4 1008.5,772.4 1016.5,771.2 1024.5,769.4 1032.5,768.2 1040.5,768.4 1048.5,778.0 1056.5,780.4 1064.5,773.4 1072.5,772.4 1080.5,778.2 1088.5,771.4 1096.5,775.4 1104.5,776.4 1112.5,777.4 1120.5,775.4 1128.5,761.4 1136.5,761.2 1144.5,758.4 1152.5,762.2 1160.5,755.2 1168.5,757.4 1176.5,764.4 1184.5,761.0 1192.5,757.4 1200.5,752.4 1208.5,748.2 1216.5,746.4 1224.5,753.4 1232.5,752.4 1240.5,759.4 1248.5,757.4 1256.5,754.4 1264.5,754.4 1272.5,763.4 1280.5,764.6 1288.5,771.4 1296.5,772.4 1304.5,768.4 1312.5,771.4 1320.5,770.4 1328.5,766.2 1336.5,779.4 1344.5,770.4 1352.5,769.4 1360.5,766.2 1368.5,751.2 1376.5,749.2 1384.5,748.2 1392.5,751.2 1400.5,749.4 1408.5,751.2 1416.5,753.4 1424.5,753.4 1432.5,746.2 1440.5,744.2 1448.5,743.2 1456.5,758.4 1464.5,759.4 1472.5,756.4 1480.5,754.4 1488.5,749.4 1496.5,747.4 1504.5,742.4 1512.5,745.4 1520.5,752.2 1528.5,763.4 1536.5,762.2 1544.5,759.4 1552.5,770.4 1560.5,770.4 1568.5,769.4 1576.5,771.4 1584.5,762.2 1592.5,765.4 1600.5,757.4 1608.5,765.4 1616.5,765.4 1624.5,751.2 1632.5,747.4 1640.5,740.4 1648.5,742.4 1656.5,742.4 1664.5,741.4"/>
<text x="4" y="708" fill="#000" stroke="#000" stroke-width="0.35" font-size="9.7" textLength="68.5" lengthAdjust="spacingAndGlyphs">RSI(14) 63.4895</text>
<text x="1689" y="706" fill="#000" stroke="#000" stroke-width="0.35" font-size="9.7" textLength="15.5" lengthAdjust="spacingAndGlyphs">100</text>
<text x="1688.5" y="737" fill="#000" stroke="#000" stroke-width="0.35" font-size="9.7" textLength="10.3" lengthAdjust="spacingAndGlyphs">70</text>
<text x="1688.5" y="787" fill="#000" stroke="#000" stroke-width="0.35" font-size="9.7" textLength="10.3" lengthAdjust="spacingAndGlyphs">30</text>
<text x="1689" y="817" fill="#000" stroke="#000" stroke-width="0.35" font-size="9.7" textLength="5.2" lengthAdjust="spacingAndGlyphs">0</text>
<g>
<text x="-1.6" y="833" fill="#000" stroke="#000" stroke-width="0.35" font-size="9.7" textLength="48.3" lengthAdjust="spacingAndGlyphs">9 Dec 2020</text>
<text x="63" y="833" fill="#000" stroke="#000" stroke-width="0.35" font-size="9.7" textLength="55" lengthAdjust="spacingAndGlyphs">15 Dec 05:00</text>
<text x="127" y="833" fill="#000" stroke="#000" stroke-width="0.35" font-size="9.7" textLength="55" lengthAdjust="spacingAndGlyphs">21 Dec 05:00</text>
<text x="191" y="833" fill="#000" stroke="#000" stroke-width="0.35" font-size="9.7" textLength="55" lengthAdjust="spacingAndGlyphs">25 Dec 05:00</text>
<text x="255" y="833" fill="#000" stroke="#000" stroke-width="0.35" font-size="9.7" textLength="55" lengthAdjust="spacingAndGlyphs">31 Dec 05:00</text>
<text x="319" y="833" fill="#000" stroke="#000" stroke-width="0.35" font-size="9.7" textLength="48" lengthAdjust="spacingAndGlyphs">7 Jan 05:00</text>
<text x="383" y="833" fill="#000" stroke="#000" stroke-width="0.35" font-size="9.7" textLength="53" lengthAdjust="spacingAndGlyphs">13 Jan 05:00</text>
<text x="447" y="833" fill="#000" stroke="#000" stroke-width="0.35" font-size="9.7" textLength="53" lengthAdjust="spacingAndGlyphs">19 Jan 05:00</text>
<text x="511" y="833" fill="#000" stroke="#000" stroke-width="0.35" font-size="9.7" textLength="53" lengthAdjust="spacingAndGlyphs">25 Jan 05:00</text>
<text x="575" y="833" fill="#000" stroke="#000" stroke-width="0.35" font-size="9.7" textLength="53" lengthAdjust="spacingAndGlyphs">29 Jan 05:00</text>
<text x="639" y="833" fill="#000" stroke="#000" stroke-width="0.35" font-size="9.7" textLength="50" lengthAdjust="spacingAndGlyphs">4 Feb 05:00</text>
<text x="703" y="833" fill="#000" stroke="#000" stroke-width="0.35" font-size="9.7" textLength="55" lengthAdjust="spacingAndGlyphs">10 Feb 05:00</text>
<text x="767" y="833" fill="#000" stroke="#000" stroke-width="0.35" font-size="9.7" textLength="55" lengthAdjust="spacingAndGlyphs">23 Feb 05:00</text>
<text x="831" y="833" fill="#000" stroke="#000" stroke-width="0.35" font-size="9.7" textLength="50.5" lengthAdjust="spacingAndGlyphs">1 Mar 05:00</text>
<text x="895" y="833" fill="#000" stroke="#000" stroke-width="0.35" font-size="9.7" textLength="50.5" lengthAdjust="spacingAndGlyphs">5 Mar 05:00</text>
<text x="959" y="833" fill="#000" stroke="#000" stroke-width="0.35" font-size="9.7" textLength="55.5" lengthAdjust="spacingAndGlyphs">11 Mar 05:00</text>
<text x="1023" y="833" fill="#000" stroke="#000" stroke-width="0.35" font-size="9.7" textLength="55.5" lengthAdjust="spacingAndGlyphs">17 Mar 05:00</text>
<text x="1087" y="833" fill="#000" stroke="#000" stroke-width="0.35" font-size="9.7" textLength="55.5" lengthAdjust="spacingAndGlyphs">23 Mar 05:00</text>
<text x="1151" y="833" fill="#000" stroke="#000" stroke-width="0.35" font-size="9.7" textLength="55.5" lengthAdjust="spacingAndGlyphs">29 Mar 05:00</text>
<text x="1215" y="833" fill="#000" stroke="#000" stroke-width="0.35" font-size="9.7" textLength="49" lengthAdjust="spacingAndGlyphs">2 Apr 05:00</text>
<text x="1279" y="833" fill="#000" stroke="#000" stroke-width="0.35" font-size="9.7" textLength="49" lengthAdjust="spacingAndGlyphs">9 Apr 05:00</text>
<text x="1343" y="833" fill="#000" stroke="#000" stroke-width="0.35" font-size="9.7" textLength="54" lengthAdjust="spacingAndGlyphs">15 Apr 05:00</text>
<text x="1407" y="833" fill="#000" stroke="#000" stroke-width="0.35" font-size="9.7" textLength="54" lengthAdjust="spacingAndGlyphs">21 Apr 05:00</text>
<text x="1471" y="833" fill="#000" stroke="#000" stroke-width="0.35" font-size="9.7" textLength="54" lengthAdjust="spacingAndGlyphs">27 Apr 05:00</text>
<text x="1535" y="833" fill="#000" stroke="#000" stroke-width="0.35" font-size="9.7" textLength="53.5" lengthAdjust="spacingAndGlyphs">6 May 05:00</text>
<text x="1599" y="833" fill="#000" stroke="#000" stroke-width="0.35" font-size="9.7" textLength="58.5" lengthAdjust="spacingAndGlyphs">12 May 05:00</text>
<text x="1663" y="833" fill="#000" stroke="#000" stroke-width="0.35" font-size="9.7" textLength="58.5" lengthAdjust="spacingAndGlyphs">18 May 05:00</text>
</g>
</svg></body></html>
